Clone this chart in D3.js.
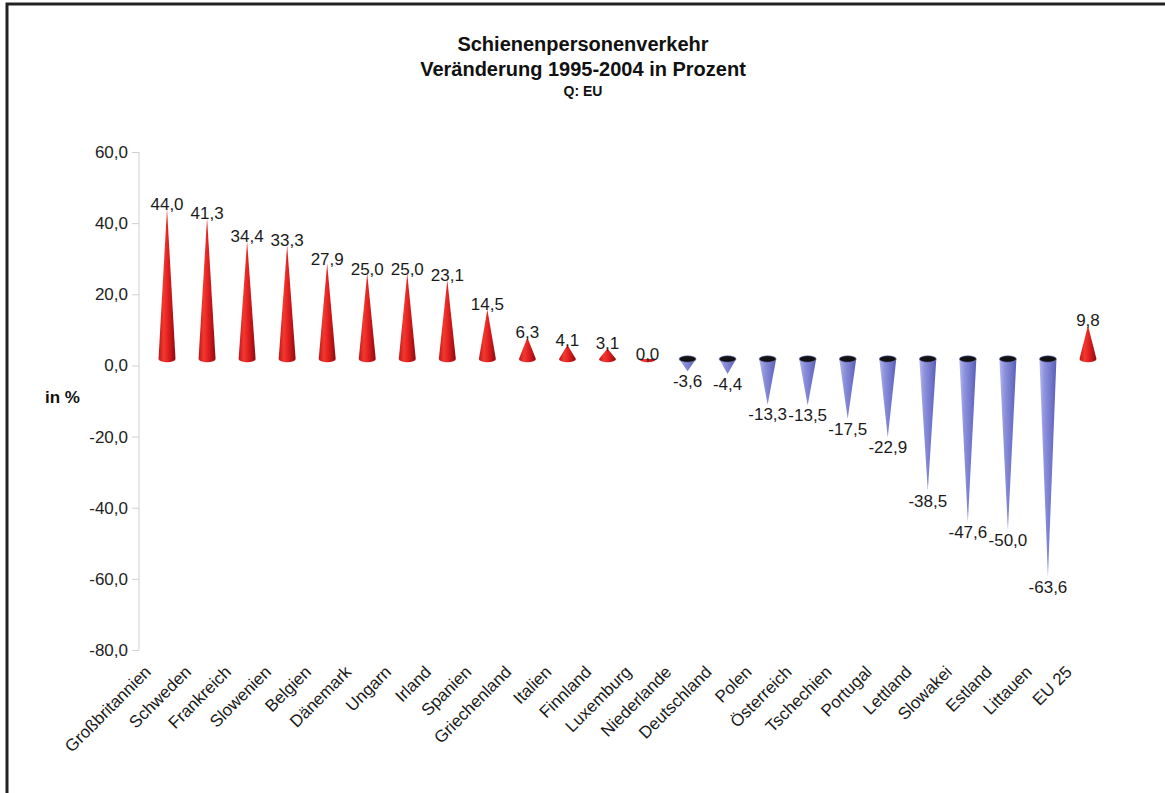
<!DOCTYPE html>
<html>
<head>
<meta charset="utf-8">
<script src="https://cdn.jsdelivr.net/npm/d3@7"></script>
<style>
  html, body { margin: 0; padding: 0; background: #fff; }
  text { font-family: Arial, "Liberation Sans", sans-serif; }
</style>
</head>
<body>
<svg id="chart" width="1165" height="793"></svg>
<script>
const categories = ["Großbritannien", "Schweden", "Frankreich", "Slowenien", "Belgien", "Dänemark",
  "Ungarn", "Irland", "Spanien", "Griechenland", "Italien", "Finnland", "Luxemburg", "Niederlande",
  "Deutschland", "Polen", "Österreich", "Tschechien", "Portugal", "Lettland", "Slowakei", "Estland",
  "Littauen", "EU 25"];
const values = [44.0, 41.3, 34.4, 33.3, 27.9, 25.0, 25.0, 23.1, 14.5, 6.3, 4.1, 3.1, 0.0, -3.6,
  -4.4, -13.3, -13.5, -17.5, -22.9, -38.5, -47.6, -50.0, -63.6, 9.8];
const yTicks = [60, 40, 20, 0, -20, -40, -60, -80];
const titleLines = ["Schienenpersonenverkehr", "Veränderung 1995-2004 in Prozent", "Q: EU"];
const yAxisTitle = "in %";

const svg = d3.select("#chart");
const W = 1165, H = 793;

// frame
svg.append("rect").attr("x", 7).attr("y", 4).attr("width", W + 20).attr("height", H + 20)
  .attr("fill", "#fff").attr("stroke", "#222").attr("stroke-width", 3);

// scales
const x = d3.scaleBand().domain(categories).range([147, 1108]).padding(0);
const y = d3.scaleLinear().domain([-80, 60]).range([650, 152]);       // axis scale
const yCone = d3.scaleLinear().domain([-80, 60]).range([632.6, 153.8]); // perspective cone scale
const locale = d3.formatLocale({ decimal: ",", thousands: ".", grouping: [3], currency: ["", "€"], minus: "-" });
const fmt = locale.format(".1f");

// gradients
const defs = svg.append("defs");
const gRed = defs.append("linearGradient").attr("id", "gRed").attr("x1", "0%").attr("x2", "100%").attr("y1", "0%").attr("y2", "0%");
[["0%", "#c0141a"], ["30%", "#f23a2e"], ["55%", "#e42020"], ["100%", "#8c0a0e"]]
  .forEach(([o, c]) => gRed.append("stop").attr("offset", o).attr("stop-color", c));
const gBlue = defs.append("linearGradient").attr("id", "gBlue").attr("x1", "0%").attr("x2", "100%").attr("y1", "0%").attr("y2", "0%");
[["0%", "#b4b8ee"], ["30%", "#8d92dc"], ["65%", "#7479cc"], ["100%", "#5a5fb8"]]
  .forEach(([o, c]) => gBlue.append("stop").attr("offset", o).attr("stop-color", c));

// title
const titleSizes = [20, 20, 14];
const titleY = [51, 76, 96];
titleLines.forEach((t, i) => {
  svg.append("text").attr("x", 583).attr("y", titleY[i]).attr("text-anchor", "middle")
    .attr("font-weight", "bold").attr("font-size", titleSizes[i]).attr("fill", "#111").text(t);
});

// y axis
const axisX = 139;
const yAxis = d3.axisLeft(y).tickValues(yTicks).tickFormat(fmt).tickSize(7).tickPadding(4);
const ga = svg.append("g").attr("transform", `translate(${axisX},0)`).call(yAxis);
ga.select(".domain").attr("stroke", "#d0d0d0").attr("d", `M0,${y(60)}V${y(-80)}`);
ga.selectAll(".tick line").attr("stroke", "#d0d0d0");
ga.selectAll(".tick text").attr("font-size", 17).attr("fill", "#222")
  .attr("font-family", "Arial, 'Liberation Sans', sans-serif");

svg.append("text").attr("x", 45).attr("y", 403).attr("font-weight", "bold").attr("font-size", 17)
  .attr("fill", "#111").text(yAxisTitle);

// cones
const w = 17, ry = 3.2;
const base = yCone(0);
const data = categories.map((c, i) => ({ c, v: values[i] }));
const cones = svg.append("g");
data.forEach(d => {
  const cx = x(d.c) + x.bandwidth() / 2;
  const tip = yCone(d.v);
  const g = cones.append("g");
  if (d.v >= 0) {
    g.append("path")
      .attr("d", `M${cx - w / 2},${base} L${cx},${tip} L${cx + w / 2},${base} A${w / 2},${ry} 0 0 1 ${cx - w / 2},${base} Z`)
      .attr("fill", "url(#gRed)");
  } else {
    g.append("path")
      .attr("d", `M${cx - w / 2},${base} L${cx},${tip} L${cx + w / 2},${base} A${w / 2},${ry} 0 0 1 ${cx - w / 2},${base} Z`)
      .attr("fill", "url(#gBlue)");
    g.append("ellipse").attr("cx", cx).attr("cy", base).attr("rx", w / 2).attr("ry", ry)
      .attr("fill", "#111").attr("stroke", "#6a6fc4").attr("stroke-width", 0.6);
  }
});

// value labels
svg.append("g").selectAll("text").data(data).join("text")
  .attr("x", d => x(d.c) + x.bandwidth() / 2)
  .attr("y", d => d.v >= 0 ? yCone(d.v) + 1 : yCone(d.v) + 16)
  .attr("text-anchor", "middle").attr("font-size", 17).attr("fill", "#1a1a1a")
  .text(d => fmt(d.v));

// category labels
svg.append("g").selectAll("text").data(categories).join("text")
  .attr("transform", c => `translate(${x(c) + x.bandwidth() / 2 - 15},673) rotate(-45)`)
  .attr("text-anchor", "end").attr("font-size", 17).attr("fill", "#1a1a1a")
  .text(c => c);
</script>
</body>
</html>
